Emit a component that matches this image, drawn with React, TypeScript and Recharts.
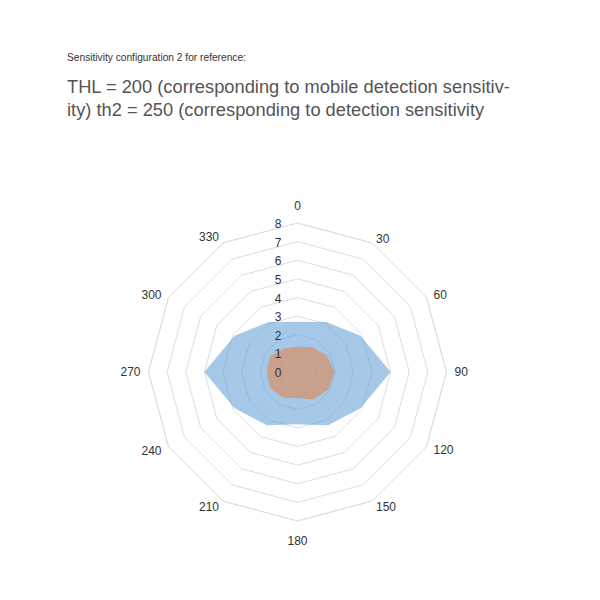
import React from "react";
import { RadarChart, Radar, PolarGrid, PolarAngleAxis, PolarRadiusAxis } from "recharts";

// bearing of each spoke, degrees
const angles = ["0", "30", "60", "90", "120", "150", "180", "210", "240", "270", "300", "330"];
// outer (blue) and inner (orange) detection ranges
const rangeTh2 = [2.7, 3.1, 3.9, 5.0, 3.9, 3.3, 2.8, 3.3, 3.9, 5.0, 3.9, 3.1];
const rangeThl = [1.35, 1.55, 1.8, 2.0, 1.9, 1.7, 1.4, 1.6, 1.7, 1.65, 1.7, 1.45];
const radiusTicks = [0, 1, 2, 3, 4, 5, 6, 7, 8];

const data = angles.map((a, i) => ({ angle: a, th2: rangeTh2[i], thl: rangeThl[i] }));

const font = "Arial, 'Liberation Sans', sans-serif";

// small vertical nudges so the angle labels sit like the original
const labelShift: Record<string, number> = {
    "0": -9, "30": 3, "60": 1, "120": -1, "150": -1, "180": 12, "210": -1, "300": 1, "330": 1,
};

const AngleTick = (props: any) => {
    const { x, y, payload, textAnchor } = props;
    return (
        <text x={x} y={y} dy={(labelShift[payload.value] || 0) + 4} textAnchor={textAnchor} fill="#333" fontSize={12} fontFamily={font}>
            {payload.value}
        </text>
    );
};

export default function App() {
    return (
        <div style={{ position: "relative", width: 584, height: 584, fontFamily: font }}>
            <div style={{ position: "absolute", left: 59, top: 44, fontSize: 10.2, color: "#333", whiteSpace: "nowrap" }}>
                Sensitivity configuration 2 for reference:
            </div>
            <div style={{ position: "absolute", left: 59, top: 67, fontSize: 18.3, lineHeight: "23px", color: "#555", whiteSpace: "nowrap" }}>
                <div>THL = 200 (corresponding to mobile detection sensitiv-</div>
                <div>ity) th2 = 250 (corresponding to detection sensitivity</div>
            </div>
            <div style={{ position: "absolute", left: 0, top: 0 }}>
                <RadarChart width={584} height={584} data={data} cx={289.5} cy={364} outerRadius={149}>
                    <PolarGrid gridType="polygon" radialLines={false} stroke="#dedede" />
                    <PolarAngleAxis
                        dataKey="angle"
                        tickLine={false}
                        axisLine={{ stroke: "#dedede" }}
                        tick={<AngleTick />}
                    />
                    <PolarRadiusAxis
                        angle={90}
                        domain={[0, 8]}
                        ticks={radiusTicks}
                        orientation="left"
                        axisLine={false}
                        tickLine={false}
                        tick={{ fill: "#333", fontSize: 12, fontFamily: font, dx: -16, dy: 5 }}
                    />
                    <Radar dataKey="th2" stroke="none" fill="#5b9bd5" fillOpacity={0.55} isAnimationActive={false} />
                    <Radar dataKey="thl" stroke="none" fill="#e0854f" fillOpacity={0.6} isAnimationActive={false} />
                </RadarChart>
            </div>
        </div>
    );
}
